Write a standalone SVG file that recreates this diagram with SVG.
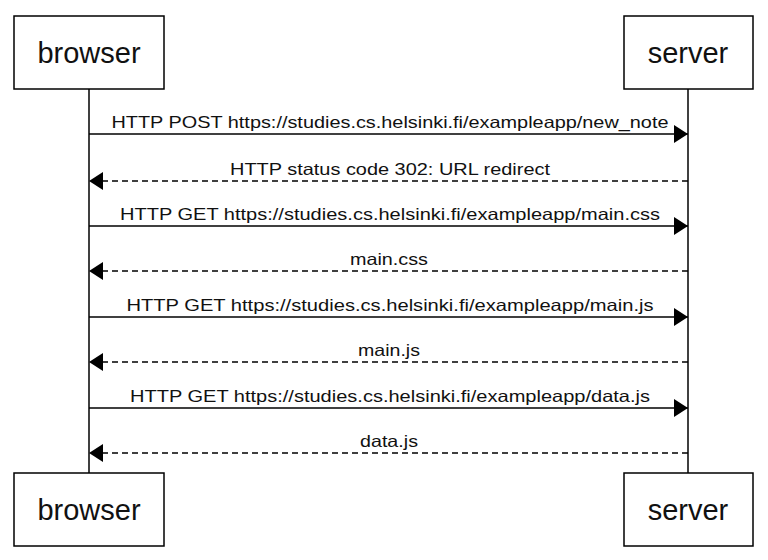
<svg xmlns="http://www.w3.org/2000/svg" width="768" height="560" viewBox="0 0 768 560">
<style>
.actor rect{fill:#fff;stroke:#000;stroke-width:1.5}
.actor text{font-family:"Liberation Sans",Arial,sans-serif;font-size:29px;fill:#111;text-anchor:middle;dominant-baseline:central}
.life{stroke:#000;stroke-width:1.5;fill:none}
.msg{stroke:#000;stroke-width:1.5;fill:none}
.dash{stroke-dasharray:6 4}
.lbl{font-family:"Liberation Sans",Arial,sans-serif;font-size:16.5px;fill:#111;text-anchor:middle}
</style>
<defs>
<marker id="ah" markerWidth="14" markerHeight="20" refX="14" refY="10" orient="auto" markerUnits="userSpaceOnUse">
<path d="M0,1 L14,10 L0,19 z" fill="#000"/>
</marker>
</defs>
<g id="lifelines">
<line class="life" x1="89" y1="89" x2="89" y2="473"/>
<line class="life" x1="688" y1="89" x2="688" y2="473"/>
</g>
<g id="browser-top" class="actor"><rect x="14" y="16" width="150" height="73"/><text x="89" y="53">browser</text></g>
<g id="server-top" class="actor"><rect x="624" y="16" width="129" height="73"/><text x="688" y="53">server</text></g>
<g id="browser-bottom" class="actor"><rect x="14" y="473" width="150" height="73"/><text x="89" y="510">browser</text></g>
<g id="server-bottom" class="actor"><rect x="624" y="473" width="129" height="73"/><text x="688" y="510">server</text></g>
<g id="connectors">
<line class="msg" x1="89" y1="134" x2="688" y2="134" marker-end="url(#ah)"/>
<line class="msg dash" x1="688" y1="181" x2="89" y2="181" marker-end="url(#ah)"/>
<line class="msg" x1="89" y1="226" x2="688" y2="226" marker-end="url(#ah)"/>
<line class="msg dash" x1="688" y1="271" x2="89" y2="271" marker-end="url(#ah)"/>
<line class="msg" x1="89" y1="317" x2="688" y2="317" marker-end="url(#ah)"/>
<line class="msg dash" x1="688" y1="362" x2="89" y2="362" marker-end="url(#ah)"/>
<line class="msg" x1="89" y1="408" x2="688" y2="408" marker-end="url(#ah)"/>
<line class="msg dash" x1="688" y1="453" x2="89" y2="453" marker-end="url(#ah)"/>
<text class="lbl" x="390" y="128" textLength="557" lengthAdjust="spacingAndGlyphs">HTTP POST https://studies.cs.helsinki.fi/exampleapp/new_note</text>
<text class="lbl" x="390" y="175" textLength="320" lengthAdjust="spacingAndGlyphs">HTTP status code 302: URL redirect</text>
<text class="lbl" x="390" y="220" textLength="540" lengthAdjust="spacingAndGlyphs">HTTP GET https://studies.cs.helsinki.fi/exampleapp/main.css</text>
<text class="lbl" x="389" y="265" textLength="78" lengthAdjust="spacingAndGlyphs">main.css</text>
<text class="lbl" x="390" y="311" textLength="527" lengthAdjust="spacingAndGlyphs">HTTP GET https://studies.cs.helsinki.fi/exampleapp/main.js</text>
<text class="lbl" x="389" y="356" textLength="62" lengthAdjust="spacingAndGlyphs">main.js</text>
<text class="lbl" x="390" y="402" textLength="520" lengthAdjust="spacingAndGlyphs">HTTP GET https://studies.cs.helsinki.fi/exampleapp/data.js</text>
<text class="lbl" x="389" y="447" textLength="58" lengthAdjust="spacingAndGlyphs">data.js</text>
</g>
</svg>
